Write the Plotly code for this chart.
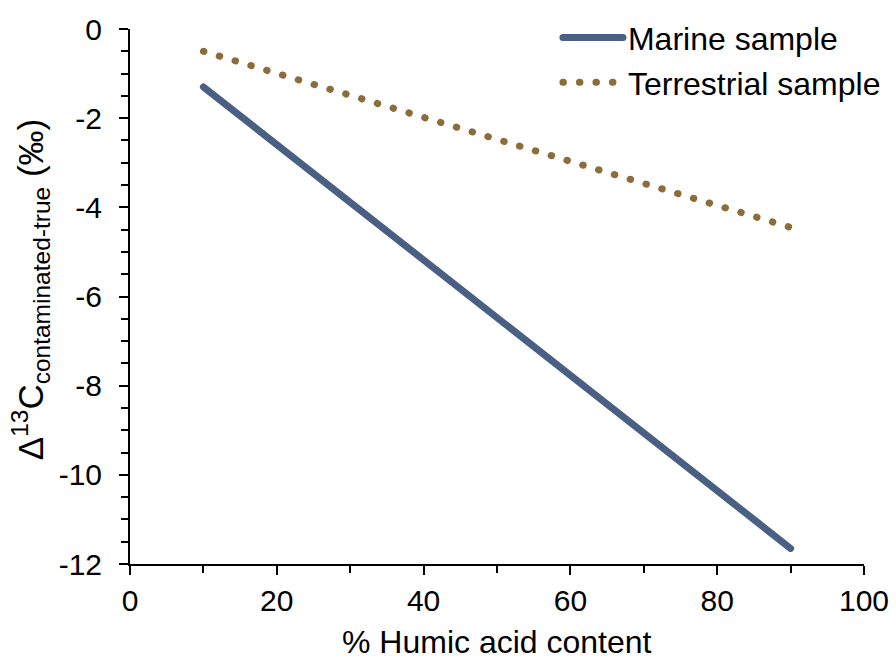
import plotly.graph_objects as go

humic = [10, 20, 30, 40, 50, 60, 70, 80, 90]
marine = [-1.30, -2.59, -3.89, -5.18, -6.48, -7.77, -9.06, -10.36, -11.65]
terrestrial = [-0.50, -0.99, -1.49, -1.98, -2.48, -2.97, -3.47, -3.96, -4.45]

x_ticks = [0, 20, 40, 60, 80, 100]
x_ticktext = ["0", "20", "40", "60", "80", "100"]
y_ticks = [0, -2, -4, -6, -8, -10, -12]
y_ticktext = ["0", "-2", "-4", "-6", "-8", "-10", "-12"]

FONT = "Liberation Sans, Arial, sans-serif"

fig = go.Figure()
fig.add_trace(go.Scatter(
    x=humic, y=marine, mode="lines", name="Marine sample",
    line=dict(color="#4a5f84", width=7)))
fig.add_trace(go.Scatter(
    x=humic, y=terrestrial, mode="lines", name="Terrestrial sample",
    line=dict(color="#8c6c3a", width=7, dash="0.5px,16px")))

axis_common = dict(
    showgrid=False, zeroline=False, showline=True, linecolor="black", linewidth=2,
    ticks="outside", tickcolor="black", tickwidth=2, ticklen=9,
    tickfont=dict(size=30, color="black", family=FONT),
)

fig.update_xaxes(
    range=[0, 100], tickvals=x_ticks, ticktext=x_ticktext,
    minor=dict(dtick=10, ticks="outside", ticklen=7, tickwidth=2, tickcolor="black"),
    **axis_common)
fig.update_yaxes(
    range=[-12, 0], tickvals=y_ticks, ticktext=y_ticktext,
    minor=dict(dtick=0.5, ticks="outside", ticklen=7, tickwidth=2, tickcolor="black"),
    ticklabelstandoff=11,
    **axis_common)

fig.add_annotation(
    text="% Humic acid content", xref="paper", yref="paper",
    x=0.5, y=-0.146, xanchor="center", yanchor="middle", showarrow=False,
    font=dict(size=32, color="black", family=FONT))
fig.add_annotation(
    text="Δ<sup>13</sup>C<sub>contaminated-true</sub> (‰)", xref="paper", yref="paper",
    x=-0.136, y=0.512, xanchor="center", yanchor="middle", showarrow=False,
    textangle=-90, font=dict(size=35, color="black", family=FONT))

fig.update_layout(
    width=896, height=659,
    margin=dict(l=130, r=32, t=29, b=95, autoexpand=False),
    plot_bgcolor="white", paper_bgcolor="white",
    font=dict(family=FONT, color="black"),
    showlegend=True,
    legend=dict(x=0.583, y=1.035, xanchor="left", yanchor="top",
                font=dict(size=32, color="black", family=FONT),
                bgcolor="rgba(0,0,0,0)", itemwidth=60, tracegroupgap=0),
)

post = """
document.body.style.margin='0';
document.querySelectorAll('.scatterlayer .js-line, .legendlines path').forEach(function(p){p.style.strokeLinecap='round';});
"""
fig.write_html("out.html", post_script=post, config={"displayModeBar": False})
